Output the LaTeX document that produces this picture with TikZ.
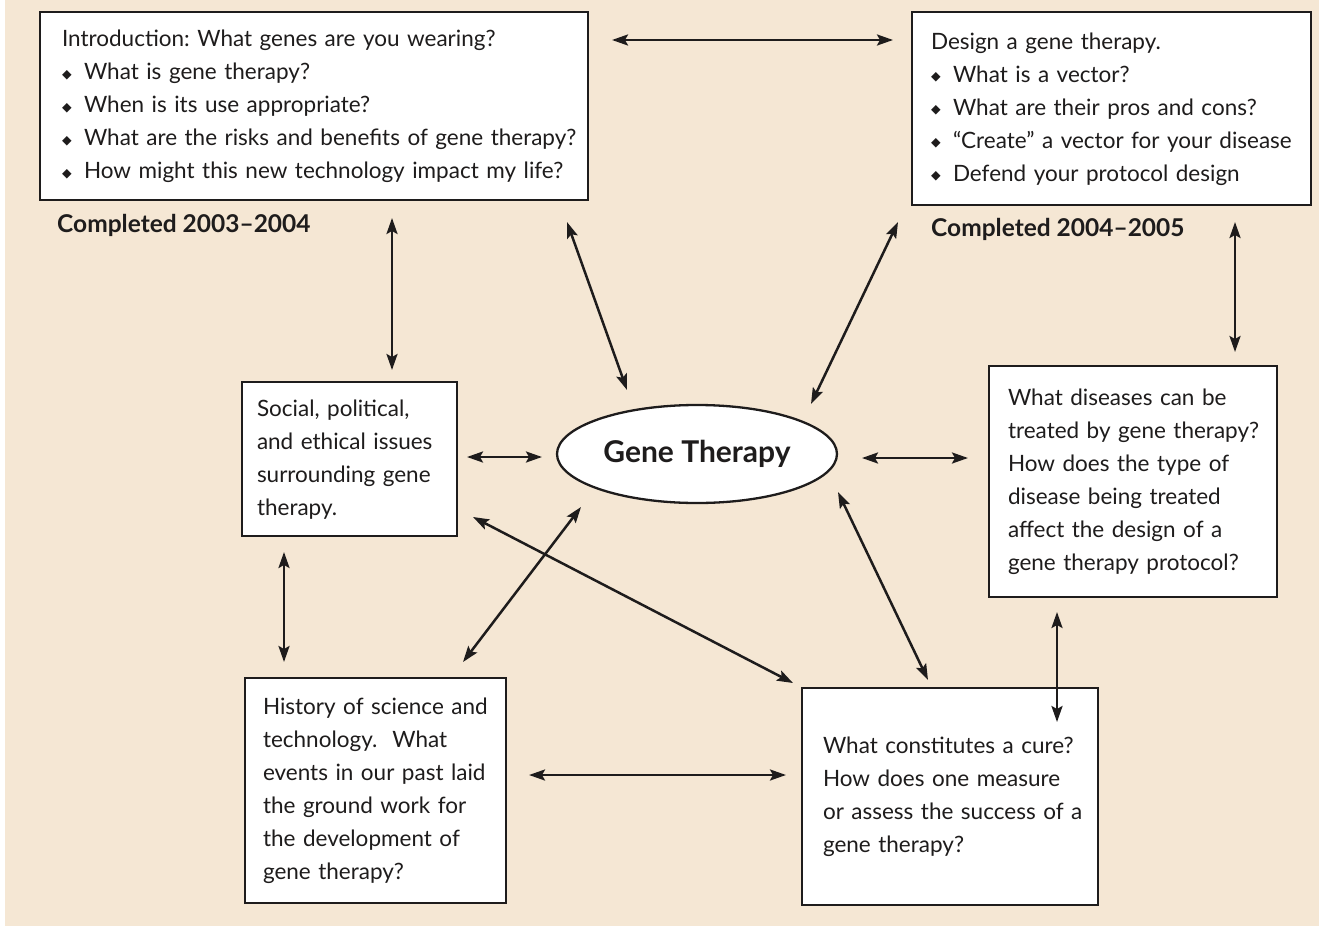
\documentclass[tikz,border=0pt]{standalone}
\usepackage{fontspec}
\setmainfont{Lato}
\newfontfamily\dejavu{DejaVu Sans}
\usetikzlibrary{arrows.meta,calc,shapes.geometric}
\definecolor{bg}{RGB}{245,231,212}
\definecolor{ink}{RGB}{30,28,28}
\frenchspacing
\newcommand\bul{\makebox[22pt][l]{\raisebox{1.5pt}{\dejavu\fontsize{12.5}{12.5}\selectfont ◆}}}
\newcommand\boxlines[1]{\begin{tabular}{@{}l@{}}#1\end{tabular}}
\begin{document}
\begin{tikzpicture}[x=1pt,y=-1pt, text=ink,
  box/.style={draw=ink, line width=2.5pt, fill=white, inner sep=0pt, outer sep=0pt, align=left,
    font=\fontsize{22.5}{33}\selectfont},
  lbl/.style={inner sep=0pt, font=\bfseries\fontsize{24.5}{27}\selectfont},
  tip/.tip={Stealth[length=16pt,width=11pt,inset=3pt]},
  dbl/.style={tip-tip, line width=2.5pt, draw=ink}]
\useasboundingbox (0,0) rectangle (1319,926);
\fill[bg] (5,0) rectangle (1319,926);

\node[box, minimum width=548pt, minimum height=188pt, text width=504pt] (intro) at (314,106)
 {\boxlines{Introduction: What genes are you wearing?\\
  \bul What is gene therapy?\\
  \bul When is its use appropriate?\\
  \bul What are the risks and benefits of gene therapy?\\
  \bul How might this new technology impact my life?}};
\node[box, minimum width=399pt, minimum height=193pt, text width=361pt] (design) at (1111.5,108.5)
 {\boxlines{Design a gene therapy.\\
  \bul What is a vector?\\
  \bul What are their pros and cons?\\
  \bul “Create” a vector for your disease\\
  \bul Defend your protocol design}};
\node[lbl, anchor=west] (done1) at (57,225) {Completed 2003--2004};
\node[lbl, anchor=west] (done2) at (931,229) {Completed 2004--2005};

\node[box, minimum width=215pt, minimum height=154pt, text width=185pt] (social) at (349.5,459)
 {\boxlines{Social, political,\\ and ethical issues\\ surrounding gene\\ therapy.}};
\node[ellipse, draw=ink, line width=2.3pt, fill=white, minimum width=280pt, minimum height=98pt,
  inner sep=0pt, outer sep=0pt, font=\bfseries\fontsize{30}{32}\selectfont] (gene) at (697,454) {Gene Therapy};
\node[box, minimum width=288pt, minimum height=231pt, text width=250pt] (disease) at (1133,481.5)
 {\boxlines{What diseases can be\\ treated by gene therapy?\\ How does the type of\\ disease being treated\\ affect the design of a\\ gene therapy protocol?}};
\node[box, minimum width=261pt, minimum height=225pt, text width=225pt] (history) at (375.5,790.5)
 {\boxlines{History of science and\\ technology.\ \ What\\ events in our past laid\\ the ground work for\\ the development of\\ gene therapy?}};
\node[box, minimum width=296pt, minimum height=217pt, text width=254pt] (cure) at (950,796.5)
 {\boxlines{What constitutes a cure?\\ How does one measure\\ or assess the success of a\\ gene therapy?}};

\draw[dbl] ($(intro.north east)+(24,28)$) -- ($(design.north west)+(-19,28)$);
\draw[dbl] ($(intro.south west)+(352,18)$) -- ($(social.north west)+(150,-12)$);
\draw[dbl] ($(intro.south east)+(-21,22)$) -- ($(gene.center)+(-70,-64)$);
\draw[dbl] ($(design.south west)+(-14,17)$) -- ($(gene.center)+(114,-50)$);
\draw[dbl] ($(design.south east)+(-76,17)$) -- ($(disease.north east)+(-42,-14)$);
\draw[dbl] ($(social.east)+(10,-2)$) -- ($(gene.west)+(-15,3)$);
\draw[dbl] ($(gene.east)+(25,4)$) -- ($(disease.west)+(-21,-23.5)$);
\draw[dbl] ($(social.south west)+(42,16)$) -- ($(history.north west)+(39,-16)$);
\draw[dbl] ($(social.south east)+(16,-19)$) -- ($(cure.north west)+(-9,-5)$);
\draw[dbl] ($(history.north east)+(-43,-16)$) -- ($(gene.center)+(-116,53)$);
\draw[dbl] ($(gene.center)+(141,38)$) -- ($(cure.north)+(-22,-8)$);
\draw[dbl] ($(disease.south west)+(68,15)$) -- ($(cure.north east)+(-41,34)$);
\draw[dbl] ($(history.east)+(23,-15.5)$) -- ($(cure.west)+(-16,-21.5)$);
\end{tikzpicture}
\end{document}
